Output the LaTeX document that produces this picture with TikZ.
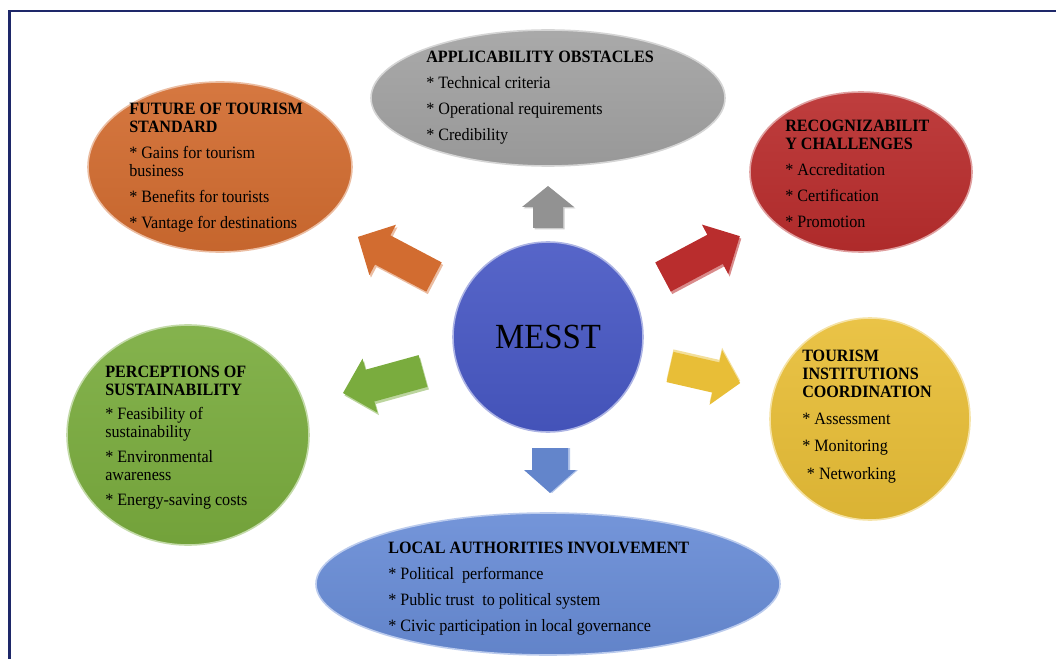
\documentclass[tikz,border=0pt]{standalone}
\usepackage{fontspec}
\setmainfont[FakeStretch=0.93]{Liberation Serif}
\usetikzlibrary{shapes.geometric}

\definecolor{cadre}{RGB}{30,40,105}
\definecolor{obstacle}{RGB}{162,162,162}
\definecolor{avenir}{RGB}{210,108,48}
\definecolor{reconn}{RGB}{185,45,45}
\definecolor{messt}{RGB}{72,88,196}
\definecolor{percep}{RGB}{122,172,62}
\definecolor{coord}{RGB}{232,190,55}
\definecolor{locale}{RGB}{104,140,214}

\begin{document}
\begin{tikzpicture}[
  x=0.75pt, y=-0.75pt,
  bulle/.style={ellipse, inner sep=0pt,
                top color=#1!92!white, bottom color=#1!94!black,
                draw=#1!45!white, line width=1.2pt},
  texte/.style={anchor=base west, inner sep=0pt,
                font=\fontsize{13}{13.5}\selectfont},
  pics/fleche/.style n args={4}{code={
    \fill (0,-#2/2) -- (#1-#4,-#2/2) -- (#1-#4,-#3/2) -- (#1,0)
          -- (#1-#4,#3/2) -- (#1-#4,#2/2) -- (0,#2/2) -- cycle;}}
]

  \useasboundingbox (0,0) rectangle (1056,659);

  %=========================================================
  % 0. Cadre (seuls les bords haut et gauche sont visibles)
  %=========================================================
  \draw[cadre, line width=2pt] (9.5,659) -- (9.5,11) -- (1056,11);

  %=========================================================
  % 1. Bulle centrale et bulles peripheriques
  %=========================================================
  \node[bulle=messt, circle, minimum size=142.5pt,
        font=\fontsize{26.5}{30}\selectfont] (centre) at (548,337) {MESST};

  \node[bulle=obstacle, minimum width=265.5pt, minimum height=102pt]
    (obst) at (548,98) {};
  \node[bulle=avenir, minimum width=198pt, minimum height=127.5pt]
    (aven) at (220,167) {};
  \node[bulle=reconn, minimum width=166.5pt, minimum height=120pt]
    (reco) at (861,172) {};
  \node[bulle=percep, minimum width=181.5pt, minimum height=165pt]
    (perc) at (188,435) {};
  \node[bulle=coord, minimum width=150pt, minimum height=151.5pt]
    (coor) at (870,419) {};
  \node[bulle=locale, minimum width=348pt, minimum height=106.5pt]
    (loca) at (548,584) {};

  %=========================================================
  % 2. Textes des bulles
  %=========================================================
  \node[texte] (t-obst) at (426,63)
    {\begin{tabular}[t]{@{}l@{}}
       \textbf{APPLICABILITY OBSTACLES}\\[6pt]
       * Technical criteria\\[6pt]
       * Operational requirements\\[6pt]
       * Credibility
     \end{tabular}};

  \node[texte] (t-aven) at (129,115)
    {\begin{tabular}[t]{@{}l@{}}
       \textbf{FUTURE OF TOURISM}\\
       \textbf{STANDARD}\\[6pt]
       * Gains for tourism\\
       business\\[6pt]
       * Benefits for tourists\\[6pt]
       * Vantage for destinations
     \end{tabular}};

  \node[texte] (t-reco) at (785,132)
    {\begin{tabular}[t]{@{}l@{}}
       \textbf{RECOGNIZABILIT}\\
       \textbf{Y CHALLENGES}\\[6pt]
       * Accreditation\\[6pt]
       * Certification\\[6pt]
       * Promotion
     \end{tabular}};

  \node[texte] (t-perc) at (105,377)
    {\begin{tabular}[t]{@{}l@{}}
       \textbf{PERCEPTIONS OF}\\
       \textbf{SUSTAINABILITY}\\[5pt]
       * Feasibility of\\
       sustainability\\[5pt]
       * Environmental\\
       awareness\\[5pt]
       * Energy-saving costs
     \end{tabular}};

  \node[texte] (t-coor) at (802,361)
    {\begin{tabular}[t]{@{}l@{}}
       \textbf{TOURISM}\\
       \textbf{INSTITUTIONS}\\
       \textbf{COORDINATION}\\[7pt]
       * Assessment\\[7pt]
       * Monitoring\\[7pt]
       \hspace{3.5pt}* Networking
     \end{tabular}};

  \node[texte] (t-loca) at (388,553)
    {\begin{tabular}[t]{@{}l@{}}
       \textbf{LOCAL AUTHORITIES INVOLVEMENT}\\[6pt]
       * Political~~performance\\[6pt]
       * Public trust~~to political system\\[6pt]
       * Civic participation in local governance
     \end{tabular}};

  %=========================================================
  % 3. Fleches pleines (arete claire puis corps)
  %=========================================================
  \pic[color=obstacle!55!white, rotate=90]    at (549.5,229.5) {fleche={42}{30}{52}{21}};
  \pic[color=obstacle!90!black, rotate=90]    at (548,228)     {fleche={42}{30}{52}{21}};

  \pic[color=avenir!45!white, rotate=152.2]   at (435.5,279.5) {fleche={86}{33}{57}{28}};
  \pic[color=avenir, rotate=152.2]            at (434,277)     {fleche={86}{33}{57}{28}};

  \pic[color=reconn!55!white, rotate=28]      at (664.5,279.5) {fleche={87}{33}{56}{28}};
  \pic[color=reconn, rotate=28]               at (663,277)     {fleche={87}{33}{56}{28}};

  \pic[color=coord!50!white, rotate=-12.9]    at (670,364.5)   {fleche={72}{31}{56}{25}};
  \pic[color=coord, rotate=-12.9]             at (670,367)     {fleche={72}{31}{56}{25}};

  \pic[color=percep!50!white, rotate=195.4]   at (424.5,373.5) {fleche={83}{33}{56}{28}};
  \pic[color=percep, rotate=195.4]            at (423,371)     {fleche={83}{33}{56}{28}};

  \pic[color=locale!50!white, rotate=-90]     at (552,448)     {fleche={45}{36}{52}{23}};
  \pic[color=locale!95!black, rotate=-90]     at (550,448)     {fleche={45}{36}{52}{23}};

\end{tikzpicture}
\end{document}
